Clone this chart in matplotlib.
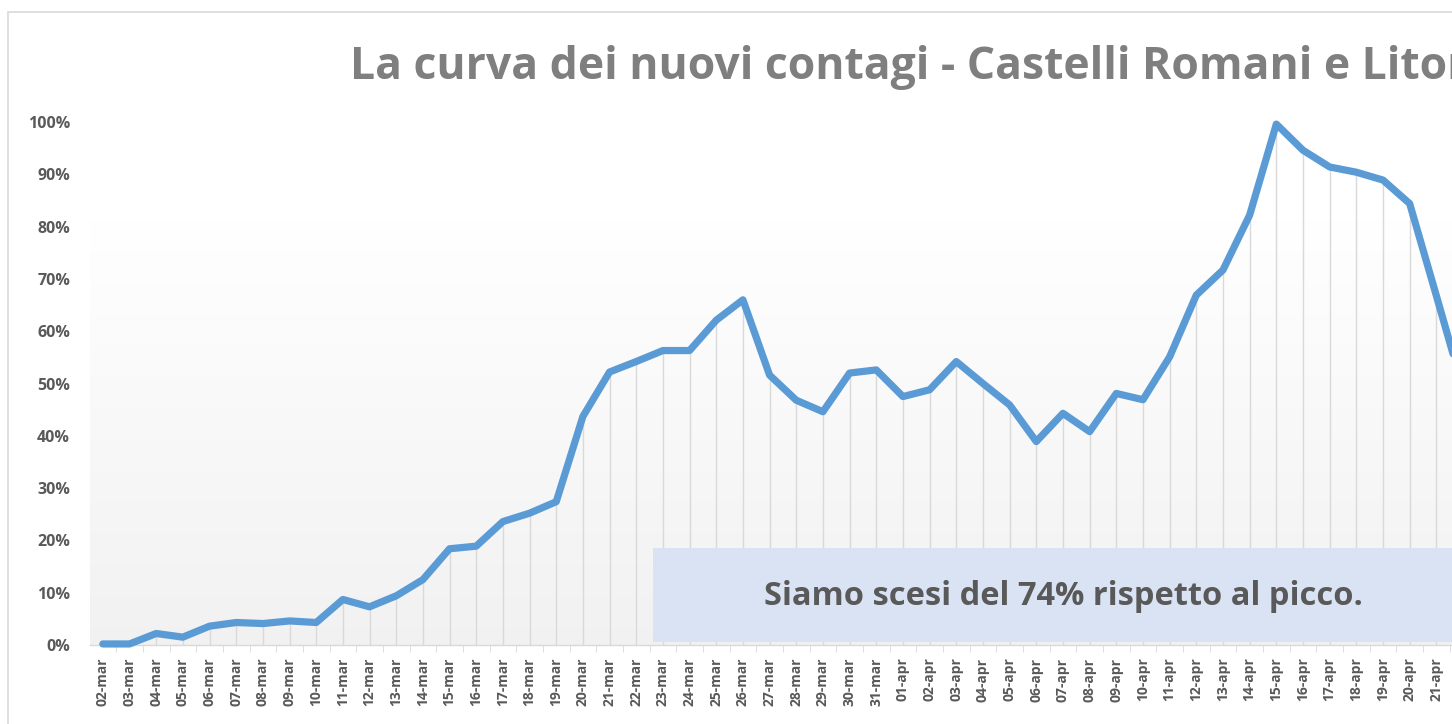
#!/usr/bin/env python3
"""Curva dei nuovi contagi - Castelli Romani e Litorale (cropped Excel-style chart)."""

import matplotlib

matplotlib.use("Agg")
import matplotlib.pyplot as plt  # noqa: E402
import numpy as np  # noqa: E402
from matplotlib.patches import Rectangle  # noqa: E402
from matplotlib.ticker import FixedLocator, PercentFormatter  # noqa: E402

TITLE = "La curva dei nuovi contagi - Castelli Romani e Litorale"
NOTE = "Siamo scesi del 74% rispetto al picco."

days = ["%02d-mar" % d for d in range(2, 32)] + ["%02d-apr" % d for d in range(1, 23)]
share_of_peak = [
    0.2, 0.2, 2.2, 1.5, 3.6, 4.3, 4.1, 4.6, 4.3, 8.7,
    7.3, 9.4, 12.5, 18.4, 18.9, 23.6, 25.2, 27.4, 43.7, 52.2,
    54.2, 56.3, 56.3, 62.1, 66.0, 51.6, 46.8, 44.6, 52.0, 52.6,
    47.5, 48.8, 54.2, 50.0, 45.9, 38.9, 44.3, 40.8, 48.1, 46.9,
    55.1, 66.9, 71.7, 82.2, 99.6, 94.6, 91.4, 90.4, 88.9, 84.4,
    66.8, 49.0,
]

LINE_BLUE = "#5b9bd5"
TEXT_GREY = "#595959"
TITLE_GREY = "#7f7f7f"
FONT = ["Open Sans", "DejaVu Sans"]

W, H = 1452, 724
fig = plt.figure(figsize=(W / 100, H / 100), dpi=100)
fig.patch.set_facecolor("white")

# chart-area border (runs off the right/bottom of the crop)
fig.patches.append(Rectangle((8 / W, -0.1), 1.2, 1 - 12 / H + 0.1, transform=fig.transFigure,
                             fill=False, edgecolor="#d9d9d9", linewidth=1.2))

step = 26.67  # pixels per category
n = len(days)
ax = fig.add_axes([89.5 / W, 79 / H, n * step / W, (645 - 122) / H])
x = np.arange(n)
y = np.array(share_of_peak) / 100

ax.set_xlim(-0.5, n - 0.5)
ax.set_ylim(0, 1.0)

# soft vertical gradient like the Excel plot area
grad = np.linspace(1.0, 0.935, 256).reshape(-1, 1)
grad = np.clip(grad + 0.012, 0, 1)
ax.imshow(np.dstack([grad, grad, grad]), extent=(-0.5, n - 0.5, 0, 1), aspect="auto",
          origin="upper", zorder=0)

ax.vlines(x, 0, y, color="#d9d9d9", linewidth=1, zorder=1)
ax.plot(x, y, color=LINE_BLUE, linewidth=5.2, solid_joinstyle="round", solid_capstyle="round",
        zorder=4, clip_on=False)

ax.add_patch(Rectangle((20.62, 0.006), 40, 0.179, facecolor="#dae3f3", edgecolor="none", zorder=3))
ax.text(36.0, 0.092, NOTE, ha="center", va="center", fontsize=23.5, fontweight="bold",
        color=TEXT_GREY, family=FONT, zorder=5)

for side in ("top", "right", "left"):
    ax.spines[side].set_visible(False)
ax.spines["bottom"].set_color("#d9d9d9")
ax.spines["bottom"].set_linewidth(1)

ax.set_yticks(np.arange(0, 1.01, 0.1))
ax.yaxis.set_major_formatter(PercentFormatter(1.0, decimals=0))
ax.tick_params(axis="y", length=0, pad=14, labelsize=11.5, labelcolor=TEXT_GREY)

ax.set_xticks(x)
ax.set_xticklabels(days, rotation=90)
ax.xaxis.set_minor_locator(FixedLocator(x + 0.5))
ax.tick_params(axis="x", which="major", length=0, pad=9, labelsize=10, labelcolor=TEXT_GREY)
ax.tick_params(axis="x", which="minor", length=5, color="#d9d9d9")
for lab in ax.get_xticklabels() + ax.get_yticklabels():
    lab.set_fontweight("bold")
    lab.set_family(FONT)
# the last date sits just past the crop edge in the original
ax.get_xticklabels()[-1].set_visible(False)

fig.text(350 / W, 1 - 67 / H, TITLE, ha="left", va="center", fontsize=32, fontweight="bold",
         color=TITLE_GREY, family=FONT)

fig.savefig("out.png", dpi=100)
